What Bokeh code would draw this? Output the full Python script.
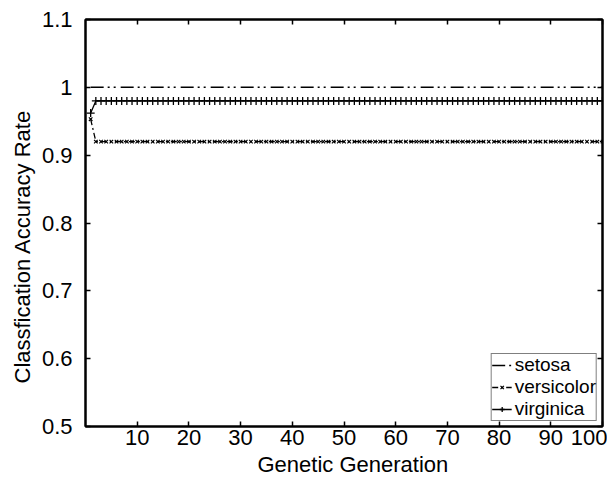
from bokeh.plotting import figure
from bokeh.models import LinearAxis, FixedTicker, CustomJSTickFormatter, Range1d, Legend, LegendItem, Title
from bokeh.embed import file_html
from bokeh.resources import INLINE

# ---- data ----
generations = list(range(1, 101))
setosa = [1.0] * 100
versicolor = [0.953] + [0.92] * 99
virginica = [0.962] + [0.98] * 99
x_ticks = [10, 20, 30, 40, 50, 60, 70, 80, 90, 100]
y_ticks = [0.5, 0.6, 0.7, 0.8, 0.9, 1.0, 1.1]
x_title = "Genetic Generation"
y_title = "Classfication Accuracy Rate"

FONT = "Liberation Sans"
FS = "22px"

p = figure(width=607, height=479, output_backend="svg", toolbar_location=None,
           x_range=Range1d(0, 100), y_range=Range1d(0.5, 1.1),
           min_border_left=85, min_border_top=19, min_border_right=5, min_border_bottom=53)
p.grid.visible = False
p.background_fill_color = "white"
p.border_fill_color = "white"
p.outline_line_color = "black"
p.outline_line_width = 2

fmt = CustomJSTickFormatter(code="return (Math.round(tick*10)/10).toString();")
empty = CustomJSTickFormatter(code="return '';")

for ax in [p.xaxis[0], p.yaxis[0]]:
    ax.major_tick_in = 5
    ax.major_tick_out = 0
    ax.minor_tick_line_color = None
    ax.axis_line_color = "black"
    ax.axis_line_width = 2
    ax.major_tick_line_color = "black"
    ax.major_tick_line_width = 1.5
    ax.major_label_text_font = FONT
    ax.major_label_text_font_size = FS
    ax.major_label_text_color = "black"

p.xaxis[0].ticker = FixedTicker(ticks=x_ticks)
p.yaxis[0].ticker = FixedTicker(ticks=y_ticks)
p.yaxis[0].formatter = fmt
p.xaxis[0].major_label_standoff = 3
p.yaxis[0].major_label_standoff = 13

# axis titles, placed as in the reference (slightly off-centre)
p.add_layout(Title(text=y_title, align="left", offset=43, standoff=8,
                   text_font=FONT, text_font_size=FS, text_font_style="normal",
                   text_color="black"), "left")
p.add_layout(Title(text=x_title, align="left", offset=172, standoff=5,
                   text_font=FONT, text_font_size=FS, text_font_style="normal",
                   text_color="black"), "below")

# mirrored axes (ticks only)
for loc, tick in [("right", y_ticks), ("above", x_ticks)]:
    ax = LinearAxis(ticker=FixedTicker(ticks=tick), formatter=empty)
    ax.major_tick_in = 5
    ax.major_tick_out = 0
    ax.minor_tick_line_color = None
    ax.axis_line_color = "black"
    ax.axis_line_width = 2
    ax.major_tick_line_width = 1.5
    ax.major_label_standoff = 0
    p.add_layout(ax, loc)

# series
r_set = p.line(generations, setosa, line_color="black", line_width=1.5,
               line_dash="13 4 2 4 2 5")
r_ver_l = p.line(generations, versicolor, line_color="black", line_width=1.3,
                 line_dash="6 3 2 3")
r_ver_m = p.scatter(generations, versicolor, marker="x", size=5, line_color="black", line_width=1.2)
r_vir_l = p.line(generations, virginica, line_color="black", line_width=1.3)
r_vir_m = p.scatter(generations, virginica, marker="cross", size=8, line_color="black", line_width=1.3)

legend = Legend(items=[
    LegendItem(label="setosa", renderers=[r_set]),
    LegendItem(label="versicolor", renderers=[r_ver_l, r_ver_m]),
    LegendItem(label="virginica", renderers=[r_vir_l, r_vir_m]),
], location="bottom_right")
legend.label_text_font = FONT
legend.label_text_font_size = "19px"
legend.label_text_color = "black"
legend.label_text_line_height = 0.8
legend.border_line_color = "black"
legend.border_line_width = 1.5
legend.spacing = 0
legend.padding = 0
legend.margin = 5
legend.glyph_width = 20
legend.glyph_height = 12
legend.label_height = 12
legend.label_standoff = 3
legend.background_fill_alpha = 1
p.add_layout(legend)

open("out.html", "w").write(file_html(p, INLINE))
